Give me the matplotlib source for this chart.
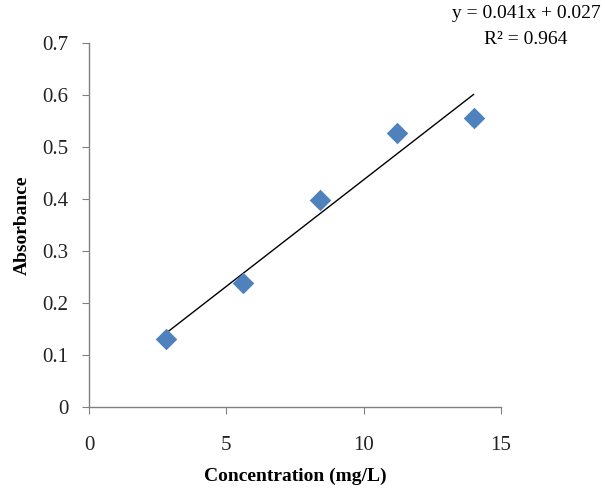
import numpy as np
import matplotlib.pyplot as plt

# calibration data
concentration = [2.8, 5.6, 8.4, 11.2, 14.0]
absorbance = [0.131, 0.238, 0.398, 0.527, 0.556]

slope = 0.041
intercept = 0.027
r_squared = 0.964

x_ticks = [0, 5, 10, 15]
y_ticks = [0, 0.1, 0.2, 0.3, 0.4, 0.5, 0.6, 0.7]

plt.rcParams["font.family"] = ["Liberation Serif", "DejaVu Serif"]

fig = plt.figure(figsize=(6.05, 4.88), dpi=100)
ax = fig.add_axes([89 / 605, 1 - 407 / 488, 412 / 605, 364 / 488])

ax.scatter(concentration, absorbance, marker="D", s=120, color="#4F81BD",
           zorder=3, linewidths=0)

x_fit = np.array([concentration[0], concentration[-1]])
ax.plot(x_fit, slope * x_fit + intercept, color="black", lw=1.0, zorder=2)

ax.set_xlim(0, 15)
ax.set_ylim(0, 0.7)
ax.set_xticks(x_ticks)
ax.set_yticks(y_ticks)
ax.set_xticklabels([str(t) for t in x_ticks])
ax.set_yticklabels(["0"] + [f"{t:.1f}" for t in y_ticks[1:]])

for side in ["top", "right"]:
    ax.spines[side].set_visible(False)
for side in ["left", "bottom"]:
    ax.spines[side].set_color("#808080")
    ax.spines[side].set_linewidth(1.0)

ax.tick_params(direction="out", length=5, color="#808080", labelsize=15,
               labelcolor="#222222")
ax.tick_params(axis="x", pad=16)
ax.tick_params(axis="y", pad=10)

ax.set_xlabel("Concentration (mg/L)", fontsize=14, fontweight="bold", labelpad=9)
ax.set_ylabel("Absorbance", fontsize=14, fontweight="bold", labelpad=8)

fig.text(526 / 605, 1 - 14 / 488, f"y = {slope}x + {intercept}",
         ha="center", va="center", fontsize=14)
fig.text(526 / 605, 1 - 40 / 488, f"R² = {r_squared}",
         ha="center", va="center", fontsize=14)

fig.savefig("out.png", dpi=100)
